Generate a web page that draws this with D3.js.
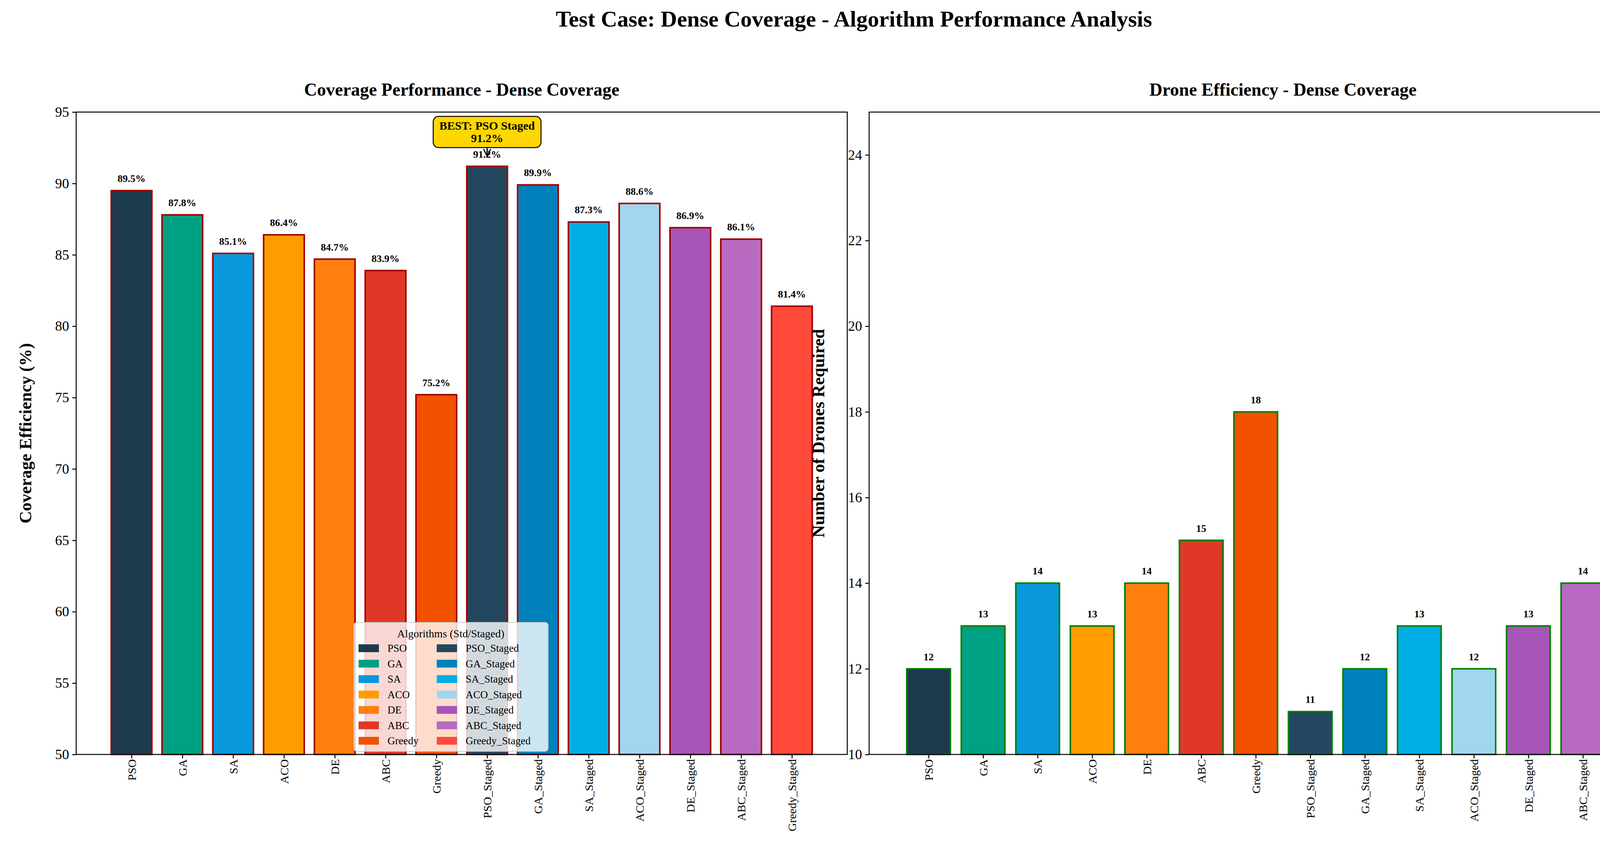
<!DOCTYPE html><html><head><meta charset="utf-8">
<script src="https://cdn.jsdelivr.net/npm/d3@7/dist/d3.min.js"></script>
<style>body{margin:0;background:#fff}svg{font-family:"Liberation Serif","Times New Roman",serif}</style></head><body>
<script>
const algorithms=["PSO","GA","SA","ACO","DE","ABC","Greedy","PSO_Staged","GA_Staged","SA_Staged","ACO_Staged","DE_Staged","ABC_Staged","Greedy_Staged"];
const coverage=[89.5,87.8,85.1,86.4,84.7,83.9,75.2,91.2,89.9,87.3,88.6,86.9,86.1,81.4];
const drones=[12,13,14,13,14,15,18,11,12,13,12,13,14,16];
const colors=["#1e3a4f","#00a082","#0998dc","#ff9c00","#ff7f0e","#e03828","#f25100","#23475e","#0081bb","#00aee6","#a0d6f0","#a855b8","#b86bc0","#ff4a3a"];
const covTicks=[50,55,60,65,70,75,80,85,90,95];
const droneTicks=[10,12,14,16,18,20,22,24];
(function(){
const W=4372,H=2169;
const svg=d3.select("body").append("svg").attr("width",W).attr("height",H);
svg.append("text").attr("x",W/2).attr("y",68).attr("text-anchor","middle").attr("font-size",58).attr("font-weight","bold").text("Test Case: Dense Coverage - Algorithm Performance Analysis");
const pTop=287,bot=1932;
function panel(x0,x1,vals,dom,ticks,title,ylabel,edge,fmt){
  const x=d3.scaleLinear().domain([-1.09,14.09]).range([x0,x1]);
  const y=d3.scaleLinear().domain(dom).range([bot,pTop]);
  const g=svg.append("g");
  const bw=x(0.8)-x(0);
  g.selectAll("rect.b").data(vals).join("rect").attr("x",(d,i)=>x(i-0.4)).attr("y",d=>y(d)).attr("width",bw).attr("height",d=>bot-y(d)).attr("fill",(d,i)=>colors[i]).attr("stroke",edge).attr("stroke-width",4);
  g.selectAll("text.v").data(vals).join("text").attr("x",(d,i)=>x(i)).attr("y",d=>y(d)-22).attr("text-anchor","middle").attr("font-size",26).attr("font-weight","bold").text(fmt);
  g.append("rect").attr("x",x0).attr("y",pTop).attr("width",x1-x0).attr("height",bot-pTop).attr("fill","none").attr("stroke","#000").attr("stroke-width",2.5);
  const ya=g.append("g").attr("transform",`translate(${x0},0)`).call(d3.axisLeft(y).tickValues(ticks).tickSize(10).tickPadding(8));
  ya.select(".domain").remove();ya.selectAll("text").attr("font-size",36).attr("font-family","Liberation Serif");ya.selectAll("line").attr("stroke-width",2.5);
  const xa=g.append("g").attr("transform",`translate(0,${bot})`).call(d3.axisBottom(x).tickValues(d3.range(14)).tickFormat(i=>algorithms[i]).tickSize(10));
  xa.select(".domain").remove();xa.selectAll("line").attr("stroke-width",2.5);
  xa.selectAll("text").attr("font-size",30).attr("font-family","Liberation Serif").attr("text-anchor","end").attr("transform","rotate(-90)").attr("dx","-12").attr("dy","0.35em").attr("x",0).attr("y",0);
  g.append("text").attr("x",(x0+x1)/2).attr("y",245).attr("text-anchor","middle").attr("font-size",46).attr("font-weight","bold").text(title);
  g.append("text").attr("transform",`translate(${x0-115},${(pTop+bot)/2}) rotate(-90)`).attr("text-anchor","middle").attr("font-size",44).attr("font-weight","bold").text(ylabel);
  return {x,y,g};
}
const L=panel(195,2169,coverage,[50,95],covTicks,"Coverage Performance - Dense Coverage","Coverage Efficiency (%)","#a00000",d=>d.toFixed(1)+"%");
panel(2225,4344,drones,[10,25],droneTicks,"Drone Efficiency - Dense Coverage","Number of Drones Required","#008000",d=>d);
const bi=coverage.indexOf(d3.max(coverage));
const bx=L.x(bi), by=L.y(coverage[bi]);
L.g.append("line").attr("x1",bx).attr("x2",bx).attr("y1",378).attr("y2",by-30).attr("stroke","#000").attr("stroke-width",3);
L.g.append("path").attr("d",`M${bx-9},${by-44}L${bx},${by-26}L${bx+9},${by-44}`).attr("fill","none").attr("stroke","#000").attr("stroke-width",3);
L.g.append("rect").attr("x",bx-138).attr("y",298).attr("width",276).attr("height",80).attr("rx",14).attr("fill","#ffd700").attr("stroke","#000").attr("stroke-width",2.5);
L.g.append("text").attr("x",bx).attr("y",332).attr("text-anchor","middle").attr("font-size",30).attr("font-weight","bold").text("BEST: "+algorithms[bi].replace("_"," "));
L.g.append("text").attr("x",bx).attr("y",364).attr("text-anchor","middle").attr("font-size",30).attr("font-weight","bold").text(coverage[bi].toFixed(1)+"%");
const lg=svg.append("g").attr("transform","translate(906,1594)");
lg.append("rect").attr("width",497).attr("height",330).attr("rx",8).attr("fill","#fff").attr("fill-opacity",0.8).attr("stroke","#ccc").attr("stroke-width",2);
lg.append("text").attr("x",248).attr("y",38).attr("text-anchor","middle").attr("font-size",28).text("Algorithms (Std/Staged)");
algorithms.forEach((a,i)=>{const c=Math.floor(i/7),r=i%7;const gx=12+c*200,gy=56+r*39.5;
 lg.append("rect").attr("x",gx).attr("y",gy).attr("width",52).attr("height",20).attr("fill",colors[i]);
 lg.append("text").attr("x",gx+74).attr("y",gy+19).attr("font-size",27).text(a);});
})();
</script></body></html>
